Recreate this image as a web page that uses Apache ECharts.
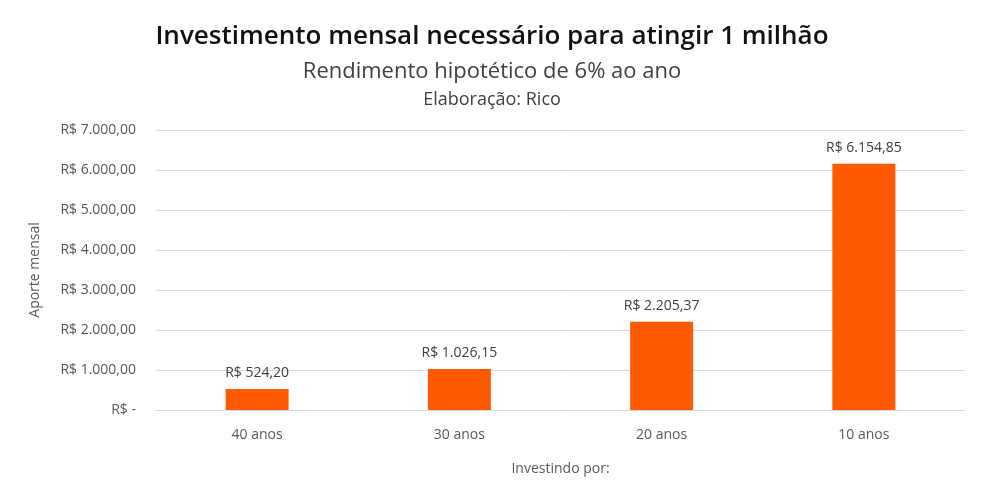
<!DOCTYPE html>
<html>
<head>
<meta charset="utf-8">
<script src="https://cdn.jsdelivr.net/npm/echarts@6/dist/echarts.min.js"></script>
<style>
    html, body { margin:0; padding:0; background:#fff; }
    #chart { width:984px; height:491px; }
</style>
</head>
<body>
<div id="chart"></div>
<script>
const categories = ["40 anos", "30 anos", "20 anos", "10 anos"];
const aporte = [524.20, 1026.15, 2205.37, 6154.85];
const yMax = 7000;
const yStep = 1000;

function brl(v){
    if(v === 0){
        return "R$ -";
    }
    const parts = v.toFixed(2).split(".");
    const intPart = parts[0].replace(/\B(?=(\d{3})+(?!\d))/g, ".");
    return "R$ " + intPart + "," + parts[1];
}

const chart = echarts.init(document.getElementById("chart"));

chart.setOption({
    animation:false,
    textStyle:{
        fontFamily:"Open Sans"
    },
    title:[
        {
            text:"Investimento mensal necessário para atingir 1 milhão",
            left:"center",
            top:19,
            textStyle:{
                fontFamily:"Open Sans",
                fontSize:26,
                fontWeight:600,
                color:"#111"
            }
        },
        {
            text:"Rendimento hipotético de 6% ao ano",
            left:"center",
            top:56,
            textStyle:{
                fontFamily:"Open Sans",
                fontSize:22,
                fontWeight:"normal",
                color:"#404040"
            }
        },
        {
            text:"Elaboração: Rico",
            left:"center",
            top:86,
            textStyle:{
                fontFamily:"Open Sans",
                fontSize:18,
                fontWeight:"normal",
                color:"#404040"
            }
        }
    ],
    grid:{
        left:156,
        right:19,
        top:130,
        bottom:81
    },
    xAxis:{
        type:"category",
        data:categories,
        name:"Investindo por:",
        nameLocation:"middle",
        nameGap:52,
        nameTextStyle:{
            color:"#595959",
            fontSize:14
        },
        axisLine:{
            lineStyle:{ color:"#d9d9d9" }
        },
        axisTick:{ show:false },
        axisLabel:{
            color:"#595959",
            fontSize:14,
            margin:18
        }
    },
    yAxis:{
        type:"value",
        min:0,
        max:yMax,
        interval:yStep,
        name:"Aporte mensal",
        nameLocation:"middle",
        nameGap:114,
        nameTextStyle:{
            color:"#595959",
            fontSize:14
        },
        axisLine:{ show:false },
        axisTick:{ show:false },
        splitLine:{
            lineStyle:{ color:"#d9d9d9" }
        },
        axisLabel:{
            color:"#595959",
            fontSize:14,
            margin:20,
            formatter:brl
        }
    },
    series:[
        {
            type:"bar",
            data:aporte,
            barWidth:63,
            itemStyle:{
                color:"#FF5A00"
            },
            label:{
                show:true,
                position:"top",
                distance:9,
                color:"#404040",
                fontSize:14,
                formatter:p => brl(p.value)
            }
        }
    ]
});
</script>
</body>
</html>
